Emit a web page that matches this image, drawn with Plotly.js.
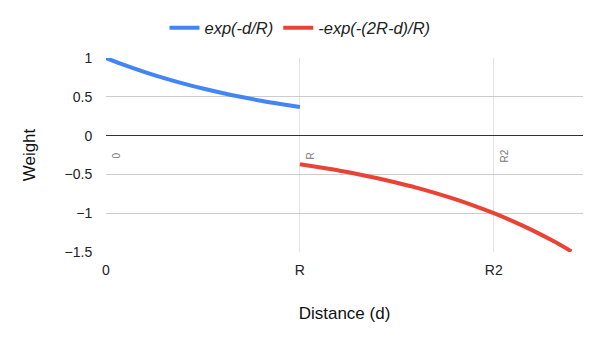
<!DOCTYPE html>
<html>
<head>
<meta charset="utf-8">
<script src="https://cdn.plot.ly/plotly-3.0.1.min.js"></script>
<style>html,body{margin:0;padding:0;background:#fff}#chart{width:600px;height:341px}</style>
</head>
<body>
<div id="chart"></div>
<script>
// Distance in units of R
const distNear = [0, 0.1, 0.2, 0.3, 0.4, 0.5, 0.6, 0.7, 0.8, 0.9, 1.0];
const weightNear = [1.0, 0.905, 0.819, 0.741, 0.670, 0.607, 0.549, 0.497, 0.449, 0.407, 0.368];
const distFar = [1.0, 1.1, 1.2, 1.3, 1.4, 1.5, 1.6, 1.7, 1.8, 1.9, 2.0, 2.1, 2.2, 2.3, 2.4];
const weightFar = [-0.368, -0.407, -0.449, -0.497, -0.549, -0.607, -0.670, -0.741, -0.819, -0.905, -1.0, -1.105, -1.221, -1.350, -1.492];
const tickPos = [0, 1, 2];
const tickLabels = ['0', 'R', 'R2'];
const seriesNames = ['exp(-d/R)', '-exp(-(2R-d)/R)'];

const FONT = 'Arial, "Liberation Sans", sans-serif';

const traces = [
  {x: distNear, y: weightNear, name: seriesNames[0], mode: 'lines', line: {color: '#4285F4', width: 4, shape: 'spline'}},
  {x: distFar, y: weightFar, name: seriesNames[1], mode: 'lines', line: {color: '#EA4335', width: 4, shape: 'spline'}}
];

const annotations = tickPos.map((p, i) => ({
  x: p, y: 0, xref: 'x', yref: 'y', text: tickLabels[i], showarrow: false,
  textangle: -90, xshift: 11, yshift: -20, font: {family: FONT, size: 10, color: '#777'}
}));

const layout = {
  width: 600, height: 341,
  margin: {l: 106, r: 17, t: 58, b: 89},
  paper_bgcolor: '#fff', plot_bgcolor: '#fff',
  font: {family: FONT, color: '#222'},
  showlegend: true,
  legend: {orientation: 'h', x: 0.5, xanchor: 'center', xref: 'container', y: 0.918, yanchor: 'middle', yref: 'container',
    font: {family: FONT, size: 16.5, style: 'italic', color: '#222'}},
  xaxis: {
    range: [0, 2.46], tickmode: 'array', tickvals: tickPos, ticktext: tickLabels,
    showgrid: true, gridcolor: '#e4e4e4', zeroline: false, showline: false,
    ticks: 'outside', ticklen: 5, tickcolor: 'rgba(0,0,0,0)',
    tickfont: {family: FONT, size: 14, color: '#222'},
    title: {text: 'Distance (d)', font: {family: FONT, size: 17, color: '#111'}, standoff: 30}
  },
  yaxis: {
    range: [-1.5, 1], tickmode: 'array', tickvals: [-1.5, -1, -0.5, 0, 0.5, 1],
    showgrid: true, gridcolor: '#cccccc', zeroline: true, zerolinecolor: '#333', zerolinewidth: 1,
    showline: false, ticks: 'outside', ticklen: 10, tickcolor: 'rgba(0,0,0,0)',
    tickfont: {family: FONT, size: 14, color: '#222'},
    title: {text: 'Weight', font: {family: FONT, size: 17, color: '#111'}, standoff: 24}
  },
  annotations: annotations
};

Plotly.newPlot('chart', traces, layout, {displayModeBar: false, staticPlot: true});
</script>
</body>
</html>
